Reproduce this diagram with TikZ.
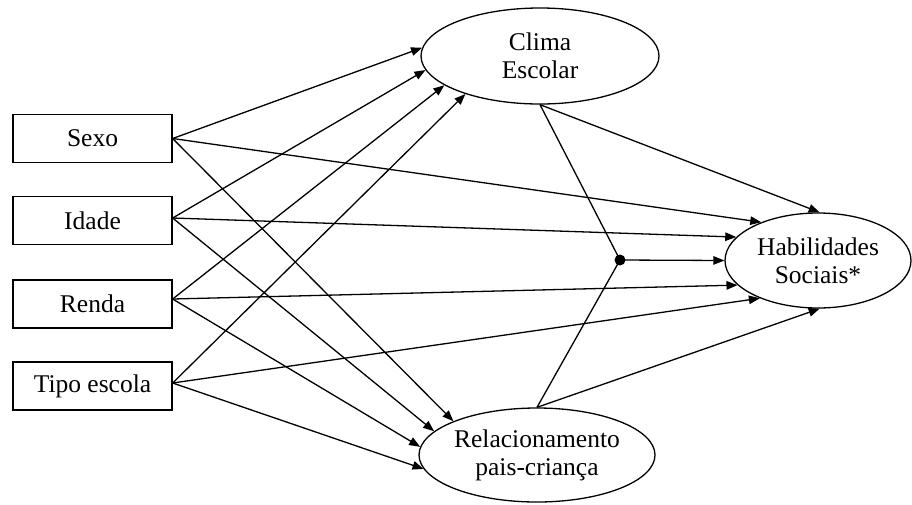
\documentclass[tikz,border=0pt]{standalone}
\usepackage{fontspec}
\setmainfont{Liberation Serif}
\usetikzlibrary{arrows.meta,shapes.geometric}

\begin{document}
\begin{tikzpicture}[x=1pt,y=-1pt,
  every node/.style={font=\fontsize{25.5}{28}\selectfont, inner sep=0pt},
  var/.style={draw, line width=1.3pt, minimum width=159pt, minimum height=48pt},
  latent/.style={draw, ellipse, line width=1.3pt, align=center},
  path/.style={line width=1.3pt, -{Triangle[length=11pt,width=8.5pt]}},
  plain/.style={line width=1.3pt},
  junction/.style={circle, fill, minimum size=11pt, inner sep=0pt},
]
\useasboundingbox (0,0) rectangle (912,504);

% observed covariates
\node[var] (sexo)  at (92.5,138.5) {Sexo};
\node[var] (idade) at (92.5,220.5) {Idade};
\node[var] (renda) at (92.5,304)   {Renda};
\node[var] (tipo)  at (92.5,386)   {Tipo escola};

% latent constructs
\node[latent, minimum width=238pt, minimum height=96pt] (clima) at (540,56) {Clima\\Escolar};
\node[latent, minimum width=236pt, minimum height=94pt] (rel) at (537,455) {Relacionamento\\pais-criança};
\node[latent, minimum width=186pt, minimum height=95pt] (hab) at (818,260.5) {Habilidades\\Sociais*};

% interaction point
\node[junction] (j) at (620,260) {};

% starting points of the covariate paths
\coordinate (s) at (sexo.east);
\coordinate (i) at ([yshift=2.5pt]idade.east);
\coordinate (r) at ([yshift=5pt]renda.east);
\coordinate (t) at ([yshift=3pt]tipo.east);

% covariates -> Clima Escolar
\foreach \src/\ang in {s/176, i/187, r/197, t/207}
  \draw[path] (\src) -- (clima.\ang);

% covariates -> Relacionamento pais-crianca
\foreach \src/\ang in {s/158, i/167.6, r/176.7, t/187}
  \draw[path] (\src) -- (rel.\ang);

% covariates -> Habilidades Sociais
\foreach \src/\ang in {s/146, i/164, r/197, t/213}
  \draw[path] (\src) -- (hab.\ang);

% mediators -> outcome and interaction
\draw[path] (clima.south) -- (hab.88);
\draw[path] (rel.north) -- (hab.272);
\draw[plain] (clima.south) -- (j.center);
\draw[plain] (rel.north) -- (j.center);
\draw[path] (j.center) -- (hab.west);
\end{tikzpicture}
\end{document}
